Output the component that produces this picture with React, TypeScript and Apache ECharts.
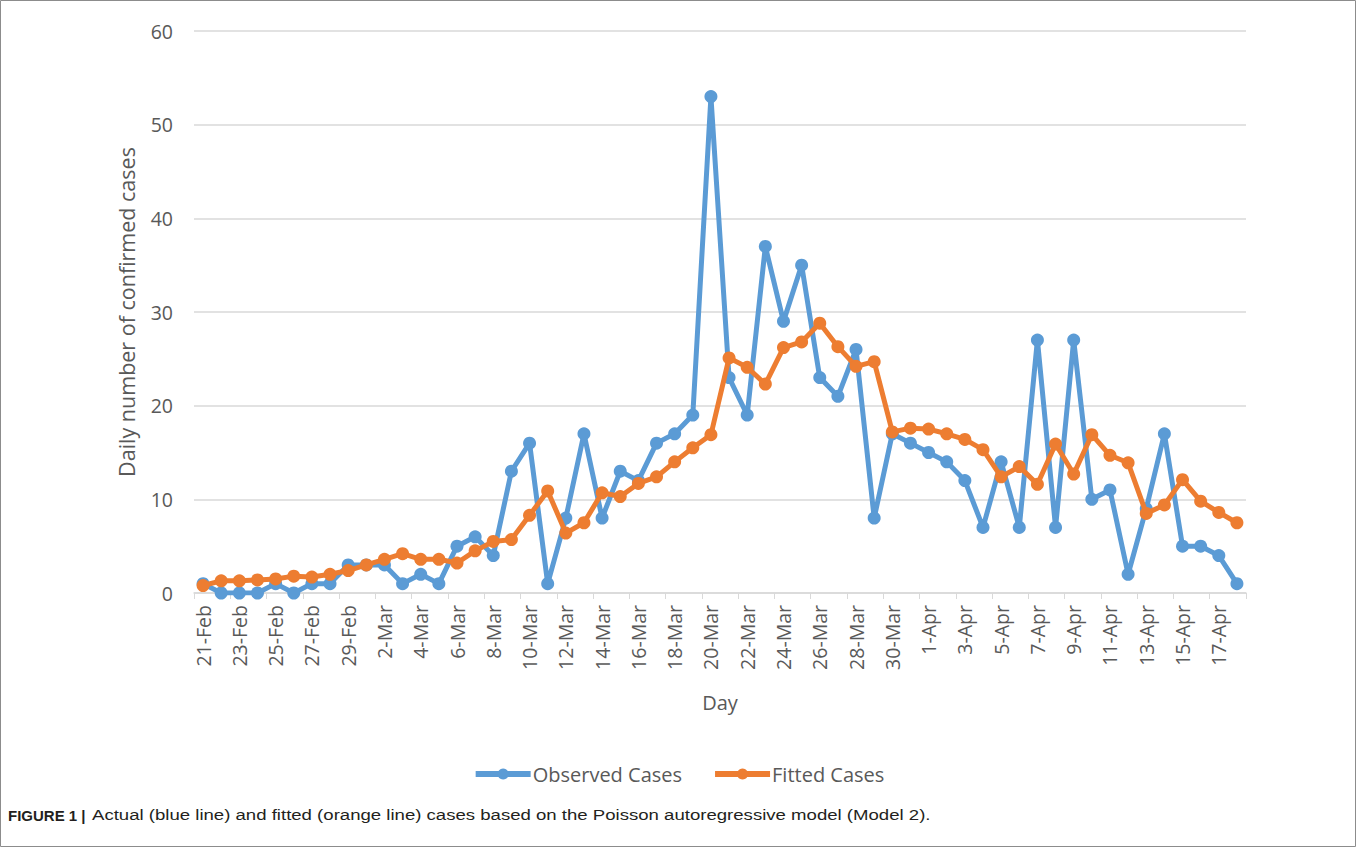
import React, { useEffect, useRef } from "react";
import * as echarts from "echarts";

const days: string[] = [
  "21-Feb","22-Feb","23-Feb","24-Feb","25-Feb","26-Feb","27-Feb","28-Feb","29-Feb",
  "1-Mar","2-Mar","3-Mar","4-Mar","5-Mar","6-Mar","7-Mar","8-Mar","9-Mar","10-Mar",
  "11-Mar","12-Mar","13-Mar","14-Mar","15-Mar","16-Mar","17-Mar","18-Mar","19-Mar","20-Mar",
  "21-Mar","22-Mar","23-Mar","24-Mar","25-Mar","26-Mar","27-Mar","28-Mar","29-Mar","30-Mar","31-Mar",
  "1-Apr","2-Apr","3-Apr","4-Apr","5-Apr","6-Apr","7-Apr","8-Apr","9-Apr","10-Apr",
  "11-Apr","12-Apr","13-Apr","14-Apr","15-Apr","16-Apr","17-Apr","18-Apr",
];

const observed: number[] = [
  1, 0, 0, 0, 1, 0, 1, 1, 3,
  3, 3, 1, 2, 1, 5, 6, 4, 13, 16,
  1, 8, 17, 8, 13, 12, 16, 17, 19, 53,
  23, 19, 37, 29, 35, 23, 21, 26, 8, 17, 16,
  15, 14, 12, 7, 14, 7, 27, 7, 27, 10,
  11, 2, 9, 17, 5, 5, 4, 1,
];

const fitted: number[] = [
  0.8, 1.3, 1.3, 1.4, 1.5, 1.8, 1.7, 2.0, 2.4,
  3.0, 3.6, 4.2, 3.6, 3.6, 3.2, 4.5, 5.5, 5.7, 8.3,
  10.9, 6.4, 7.5, 10.7, 10.3, 11.7, 12.4, 14.0, 15.5, 16.9,
  25.1, 24.1, 22.3, 26.2, 26.8, 28.8, 26.3, 24.2, 24.7, 17.2, 17.6,
  17.5, 17.0, 16.4, 15.3, 12.4, 13.5, 11.6, 15.9, 12.7, 16.9,
  14.7, 13.9, 8.5, 9.4, 12.1, 9.8, 8.6, 7.5,
];

const yTicks = { min: 0, max: 60, interval: 10 };
const seriesNames = ["Observed Cases", "Fitted Cases"];
const captionBold = "FIGURE 1 |";
const captionText = "Actual (blue line) and fitted (orange line) cases based on the Poisson autoregressive model (Model 2).";

export default function App() {
  const ref = useRef<HTMLDivElement>(null);
  useEffect(() => {
    document.body.style.margin = "0";
    if (!ref.current) return;
    const chart = echarts.init(ref.current, undefined, { renderer: "svg" });
    const font = "'Open Sans', Lato, sans-serif";
    const grey = "#595959";
    chart.setOption({
      animation: false,
      backgroundColor: "#ffffff",
      textStyle: { fontFamily: font },
      grid: { left: 194, right: 111, top: 31, bottom: 255, containLabel: false },
      legend: {
        data: seriesNames,
        left: "center",
        top: 759,
        itemWidth: 55,
        itemHeight: 14,
        itemGap: 30,
        lineStyle: { width: 6 },
        textStyle: { fontSize: 20, color: grey, fontFamily: font, padding: [0, 0, 0, -3] },
      },
      xAxis: {
        type: "category",
        data: days,
        boundaryGap: true,
        name: "Day",
        nameLocation: "middle",
        nameGap: 99,
        nameTextStyle: { fontSize: 20, color: grey, fontFamily: font },
        axisLine: { lineStyle: { color: "#d9d9d9", width: 1.5 } },
        axisTick: { show: true, interval: 1, length: 6, lineStyle: { color: "#d9d9d9" } },
        axisLabel: {
          interval: 1,
          rotate: 90,
          fontSize: 19.5,
          color: grey,
          margin: 12,
          fontFamily: font,
        },
        splitLine: { show: false },
      },
      yAxis: {
        type: "value",
        min: yTicks.min,
        max: yTicks.max,
        interval: yTicks.interval,
        name: "Daily number of confirmed cases",
        nameLocation: "middle",
        nameGap: 57,
        nameTextStyle: { fontSize: 21.5, color: grey, fontFamily: font },
        axisLine: { show: false },
        axisTick: { show: false },
        axisLabel: { fontSize: 19.5, color: grey, margin: 21, fontFamily: font },
        splitLine: { lineStyle: { color: "#d9d9d9", width: 1.5 } },
      },
      series: [
        {
          name: seriesNames[0],
          type: "line",
          data: observed,
          symbol: "circle",
          symbolSize: 13,
          showAllSymbol: true,
          lineStyle: { color: "#5B9BD5", width: 5 },
          itemStyle: { color: "#5B9BD5" },
          z: 2,
        },
        {
          name: seriesNames[1],
          type: "line",
          data: fitted,
          symbol: "circle",
          symbolSize: 13,
          showAllSymbol: true,
          lineStyle: { color: "#ED7D31", width: 5 },
          itemStyle: { color: "#ED7D31" },
          z: 3,
        },
      ],
      graphic: [
        {
          type: "rect",
          shape: { x: 0.5, y: 0.5, width: 1355, height: 846 },
          style: { fill: "none", stroke: "#8c8c8c", lineWidth: 1 },
          silent: true,
        },
        {
          type: "text",
          x: 8,
          y: 808,
          style: {
            text: captionBold,
            font: "bold 15px 'Liberation Sans', Arial, sans-serif",
            fill: "#231f20",
          },
        },
        {
          type: "text",
          x: 92,
          y: 808,
          scaleX: 1.24,
          style: {
            text: captionText,
            font: "15px 'Liberation Sans', Arial, sans-serif",
            fill: "#231f20",
          },
        },
      ],
    });
    return () => chart.dispose();
  }, []);
  return (
    <div
      ref={ref}
      style={{ position: "absolute", left: 0, top: 0, width: 1357, height: 848 }}
    />
  );
}
